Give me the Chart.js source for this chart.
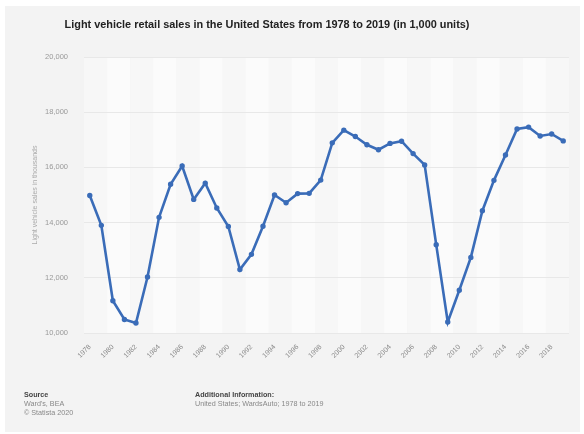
<!DOCTYPE html>
<html>
<head>
<meta charset="utf-8">
<script src="https://cdn.jsdelivr.net/npm/chart.js@4/dist/chart.umd.min.js"></script>
<style>
  html, body { margin: 0; padding: 0; background: #ffffff; }
  #panel { position: absolute; left: 5px; top: 6px; width: 575px; height: 426px; background: #f3f3f3; }
  #wrap { position: absolute; left: 0; top: 0; width: 584px; height: 434px; }
  .t { position: absolute; font-family: "Liberation Sans", Arial, sans-serif; white-space: nowrap; }
  #title { left: 0; width: 534px; top: 18px; text-align: center; font-size: 10.9px; font-weight: bold; color: #222; }
  .fh { font-size: 7.2px; font-weight: bold; color: #444; }
  .fl { font-size: 7.2px; color: #888; }
</style>
</head>
<body>
<div id="panel"></div>
<div id="wrap"><canvas id="c" width="584" height="434"></canvas></div>
<div class="t" id="title">Light vehicle retail sales in the United States from 1978 to 2019 (in 1,000 units)</div>
<div class="t fh" style="left:24px;top:390px;">Source</div>
<div class="t fl" style="left:24px;top:399px;">Ward's, BEA</div>
<div class="t fl" style="left:24px;top:408px;">© Statista 2020</div>
<div class="t fh" style="left:195px;top:390px;">Additional Information:</div>
<div class="t fl" style="left:195px;top:399px;">United States; WardsAuto; 1978 to 2019</div>
<script>
const years = [];
for (let y = 1978; y <= 2019; y++) years.push(String(y));
const sales = [14980, 13900, 11170, 10490, 10360, 12030, 14190, 15390, 16050, 14840,
               15430, 14530, 13860, 12300, 12850, 13870, 15000, 14720, 15050, 15060,
               15540, 16890, 17350, 17120, 16820, 16640, 16870, 16950, 16500, 16090,
               13200, 10400, 11550, 12740, 14430, 15530, 16450, 17390, 17460, 17140,
               17210, 16960];
const yTicks = [10000, 12000, 14000, 16000, 18000, 20000];
const yTitle = 'Light vehicle sales in thousands';

const bands = {
  id: 'bands',
  beforeDraw(chart) {
    const { ctx, chartArea: a, scales: { x } } = chart;
    ctx.save();
    const half = (x.getPixelForValue(1) - x.getPixelForValue(0)) / 2;
    for (let i = 0; i < years.length; i += 2) {
      const l = x.getPixelForValue(i) - half;
      const r = Math.min(x.getPixelForValue(Math.min(i + 1, years.length - 1)) + half, a.right);
      ctx.fillStyle = (i / 2) % 2 === 0 ? '#f7f7f7' : '#fbfbfb';
      ctx.fillRect(l, a.top, r - l, a.bottom - a.top);
    }
    ctx.restore();
  }
};

new Chart(document.getElementById('c'), {
  type: 'line',
  data: {
    labels: years,
    datasets: [{
      data: sales,
      borderColor: '#3a6cb8',
      backgroundColor: '#3a6cb8',
      borderWidth: 2.6,
      pointRadius: 1.4,
      pointHoverRadius: 1.4,
      tension: 0,
      fill: false
    }]
  },
  options: {
    responsive: false,
    animation: false,
    devicePixelRatio: 1,
    layout: { padding: { left: 31, top: 57, right: 15, bottom: 61 } },
    plugins: { legend: { display: false }, title: { display: false }, tooltip: { enabled: false } },
    scales: {
      x: {
        offset: true,
        grid: { display: false },
        border: { display: false },
        afterFit(s) { s.height = 40; },
        ticks: {
          autoSkip: false,
          maxRotation: 45,
          minRotation: 45,
          padding: 2,
          color: '#888',
          font: { family: 'Liberation Sans, Arial', size: 7 },
          callback(v, i) { return i % 2 === 0 ? years[i] : ''; }
        }
      },
      y: {
        min: yTicks[0],
        max: yTicks[yTicks.length - 1],
        afterFit(s) { s.width = 53; },
        afterBuildTicks(s) { s.ticks = yTicks.map(v => ({ value: v })); },
        border: { display: false },
        grid: { color: '#e8e8e8', lineWidth: 1, drawTicks: false },
        title: {
          display: true,
          text: yTitle,
          color: '#aaa',
          font: { family: 'Liberation Sans, Arial', size: 7 },
          padding: 0
        },
        ticks: {
          padding: 16,
          color: '#999',
          font: { family: 'Liberation Sans, Arial', size: 7.5 },
          callback(v) { return v.toLocaleString('en-US'); }
        }
      }
    }
  },
  plugins: [bands]
});
</script>
</body>
</html>
